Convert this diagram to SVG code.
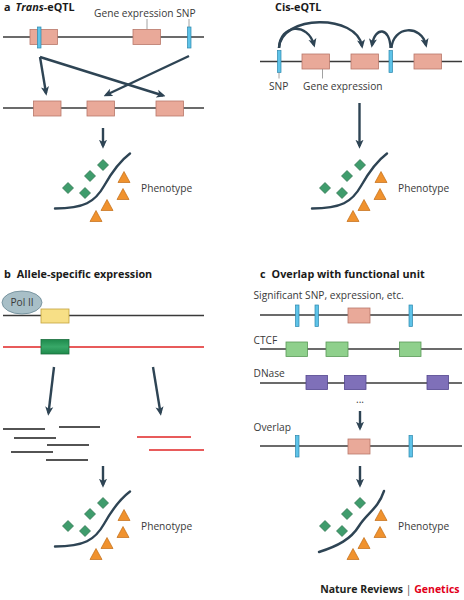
<svg xmlns="http://www.w3.org/2000/svg" width="464" height="600" viewBox="0 0 464 600">
<defs>
<style>
.t{font-family:"Open Sans","Noto Sans",sans-serif;fill:#3a3a3a;font-size:10.2px}
.h{font-family:"Open Sans","Noto Sans",sans-serif;fill:#1a1a1a;font-size:10.8px;font-weight:bold}
.chr{stroke:#3a3a3a;stroke-width:1.4;fill:none}
.red{stroke:#e02424;stroke-width:1.4;fill:none}
.gene{fill:#e9a999;stroke:#b8786a;stroke-width:0.8}
.snp{fill:#5ec3e9;stroke:#2b88ad;stroke-width:0.7}
.ctcf{fill:#8fd08c;stroke:#5a9a58;stroke-width:0.8}
.dnase{fill:#7f70b9;stroke:#544690;stroke-width:0.8}
.arr{stroke:#2e4454;stroke-width:2.4;fill:none;marker-end:url(#ah)}
.lead{stroke:#8a8a8a;stroke-width:0.8}
.curve{stroke:#2e4454;stroke-width:2.4;fill:none;stroke-linecap:round}
.dia{fill:#3f9c6c;stroke:#2a6e4a;stroke-width:0.7}
.tri{fill:#f0922e;stroke:#c26c14;stroke-width:0.7}
.read{stroke:#1a1a1a;stroke-width:1.3}
.rread{stroke:#e02424;stroke-width:1.3}
</style>
<linearGradient id="gg" x1="0" y1="0" x2="0" y2="1">
<stop offset="0" stop-color="#1e8a4c"/><stop offset="0.5" stop-color="#38a868"/><stop offset="1" stop-color="#1e8a4c"/>
</linearGradient>
<marker id="ah" markerUnits="userSpaceOnUse" viewBox="0 0 10 10" markerWidth="9" markerHeight="9" refX="7" refY="5" orient="auto">
<path d="M0,0.5 L10,5 L0,9.5 L2.5,5 z" fill="#2e4454"/>
</marker>
<g id="marks">
<path class="dia" d="M103,159.5 L108.5,165 L103,170.5 L97.5,165 z"/>
<path class="dia" d="M90,170.5 L95.5,176 L90,181.5 L84.5,176 z"/>
<path class="dia" d="M68,182.5 L73.5,188 L68,193.5 L62.5,188 z"/>
<path class="dia" d="M85,187.5 L90.5,193 L85,198.5 L79.5,193 z"/>
<path class="tri" d="M124,171.5 L130,182.5 L118,182.5 z"/>
<path class="tri" d="M123,188.5 L129,199.5 L117,199.5 z"/>
<path class="tri" d="M107,199.5 L113,210.5 L101,210.5 z"/>
<path class="tri" d="M96,210.5 L102,221.5 L90,221.5 z"/>
</g>
</defs>
<rect width="464" height="600" fill="#ffffff"/>

<!-- Panel a: Trans-eQTL -->
<g id="panel-a-trans">
<text class="h" x="4" y="11">a<tspan dx="5" font-style="italic">Trans</tspan>-eQTL</text>
<text class="t" x="94" y="17">Gene expression SNP</text>
<line class="lead" x1="147" y1="19" x2="147" y2="29"/>
<line class="lead" x1="189" y1="19" x2="189" y2="27"/>
<line class="chr" x1="3" y1="37" x2="204" y2="37"/>
<rect class="gene" x="30" y="29.5" width="27.5" height="15"/>
<rect class="snp" x="37.5" y="27" width="3.5" height="21"/>
<rect class="gene" x="133" y="29.5" width="27.5" height="15"/>
<rect class="snp" x="187.5" y="27" width="3.5" height="21"/>
<line class="chr" x1="3" y1="108" x2="204" y2="108"/>
<rect class="gene" x="33.5" y="101" width="27.5" height="15"/>
<rect class="gene" x="87" y="101" width="27.5" height="15"/>
<rect class="gene" x="156" y="101" width="27.5" height="15"/>
</g>

<!-- Panel a: Cis-eQTL -->
<g id="panel-a-cis">
<text class="h" x="275" y="11">Cis-eQTL</text>
<line class="chr" x1="260" y1="61.5" x2="462" y2="61.5"/>
<rect class="snp" x="277.5" y="50.5" width="3.5" height="22"/>
<rect class="gene" x="302" y="54" width="27.5" height="15"/>
<rect class="gene" x="351" y="54" width="27.5" height="15"/>
<rect class="snp" x="389" y="50.5" width="3.5" height="22"/>
<rect class="gene" x="414" y="54" width="27.5" height="15"/>
<line class="lead" x1="279" y1="72.5" x2="279" y2="78.5"/>
<line class="lead" x1="322.5" y1="69" x2="322.5" y2="78.5"/>
<text class="t" x="269" y="90">SNP</text>
<text class="t" x="303" y="90">Gene expression</text>
</g>

<!-- Panel b -->
<g id="panel-b">
<text class="h" x="4" y="278">b<tspan dx="6">Allele-specific expression</tspan></text>
<line class="chr" x1="3" y1="315.5" x2="204" y2="315.5"/>
<ellipse cx="22" cy="302.5" rx="20" ry="11.5" fill="#a8bfc7" stroke="#6a8894" stroke-width="0.8"/>
<text class="t" x="22" y="306" text-anchor="middle" font-size="10" fill="#2a2a2a">Pol II</text>
<rect x="41" y="309" width="28" height="14" fill="#f7df86" stroke="#c4a23e" stroke-width="0.8"/>
<line class="red" x1="3" y1="347" x2="204" y2="347"/>
<rect x="41" y="339.5" width="28" height="14.5" fill="url(#gg)" stroke="#1a6e3e" stroke-width="0.8"/>
<line class="read" x1="3" y1="429" x2="45" y2="429"/>
<line class="read" x1="59" y1="427" x2="100" y2="427"/>
<line class="read" x1="14" y1="438" x2="56" y2="438"/>
<line class="read" x1="47" y1="445" x2="89" y2="445"/>
<line class="read" x1="11" y1="452" x2="53" y2="452"/>
<line class="read" x1="46" y1="460" x2="88" y2="460"/>
<line class="rread" x1="137" y1="437" x2="191" y2="437"/>
<line class="rread" x1="149" y1="450" x2="204" y2="450"/>
</g>

<!-- Panel c -->
<g id="panel-c">
<text class="h" x="260" y="278">c<tspan dx="6">Overlap with functional unit</tspan></text>
<text class="t" x="253.5" y="299">Significant SNP, expression, etc.</text>
<line class="chr" x1="260" y1="315" x2="462" y2="315"/>
<rect class="snp" x="295.5" y="305" width="3.5" height="21.5"/>
<rect class="snp" x="315" y="305" width="3.5" height="21.5"/>
<rect class="gene" x="348" y="308" width="22" height="15"/>
<rect class="snp" x="409" y="305" width="3.5" height="21.5"/>
<text class="t" x="253.5" y="344">CTCF</text>
<line class="chr" x1="260" y1="349" x2="462" y2="349"/>
<rect class="ctcf" x="286" y="342" width="21.5" height="14.5"/>
<rect class="ctcf" x="326" y="342" width="22" height="14.5"/>
<rect class="ctcf" x="399.5" y="342" width="21.5" height="14.5"/>
<text class="t" x="253.5" y="377">DNase</text>
<line class="chr" x1="260" y1="383" x2="462" y2="383"/>
<rect class="dnase" x="306" y="375.5" width="21.5" height="14"/>
<rect class="dnase" x="344.5" y="375.5" width="21.5" height="14"/>
<rect class="dnase" x="427" y="375.5" width="21.5" height="14"/>
<text class="t" x="360" y="403" text-anchor="middle" font-size="8" fill="#777">...</text>
<text class="t" x="253.5" y="431">Overlap</text>
<line class="chr" x1="260" y1="446" x2="462" y2="446"/>
<rect class="snp" x="295.5" y="435.5" width="3.5" height="21.5"/>
<rect class="gene" x="348" y="439" width="22" height="15"/>
<rect class="snp" x="409" y="435.5" width="3.5" height="21.5"/>
</g>

<!-- Phenotype clusters -->
<g id="pheno-a">
<path class="curve" d="M55,208.5 C84,208.5 95,202 104,186 C113,170 120,161 130,153.5"/>
<use href="#marks"/>
<text class="t" x="141" y="192">Phenotype</text>
</g>
<g id="pheno-cis">
<path class="curve" d="M312,208.5 C341,208.5 352,202 361,186 C370,170 377,161 387,153.5"/>
<use href="#marks" transform="translate(257,0)"/>
<text class="t" x="398" y="192">Phenotype</text>
</g>
<g id="pheno-b">
<path class="curve" d="M55,546.5 C84,546.5 95,540 104,524 C113,508 120,499 130,491.5"/>
<use href="#marks" transform="translate(0,338)"/>
<text class="t" x="141" y="530">Phenotype</text>
</g>
<g id="pheno-c">
<path class="curve" d="M319,552 C338,546 351,539 359,526 C367,513 378,509 384,491"/>
<use href="#marks" transform="translate(257,338)"/>
<text class="t" x="398" y="530">Phenotype</text>
</g>

<!-- Connectors -->
<g id="connectors">
<path class="arr" d="M40,57 L46,93"/>
<path class="arr" d="M40,57 L163,95.5"/>
<path class="arr" d="M189,56 L106,95"/>
<path class="arr" d="M103,128 L103,146"/>
<path class="arr" d="M279,48 C281,14 357,14 362,46"/>
<path class="arr" d="M279,48 C280,24 308,22 314,45"/>
<path class="arr" d="M390.5,48 C390,27 375,26 372,45"/>
<path class="arr" d="M391.5,48 C393,26 421,24 426,45"/>
<path class="arr" d="M359.5,103 L359.5,146"/>
<path class="arr" d="M54,367 L48.5,413"/>
<path class="arr" d="M153,367 L160.5,413"/>
<path class="arr" d="M103,466 L103,485"/>
<path class="arr" d="M360,411 L360,428"/>
<path class="arr" d="M360,466 L360,485"/>
</g>

<text x="459.5" y="593" text-anchor="end" font-family="Open Sans, Noto Sans, sans-serif" font-size="10.5" font-weight="bold" fill="#231f20">Nature Reviews <tspan font-weight="normal" fill="#555">|</tspan> <tspan fill="#e2001a">Genetics</tspan></text>
</svg>
